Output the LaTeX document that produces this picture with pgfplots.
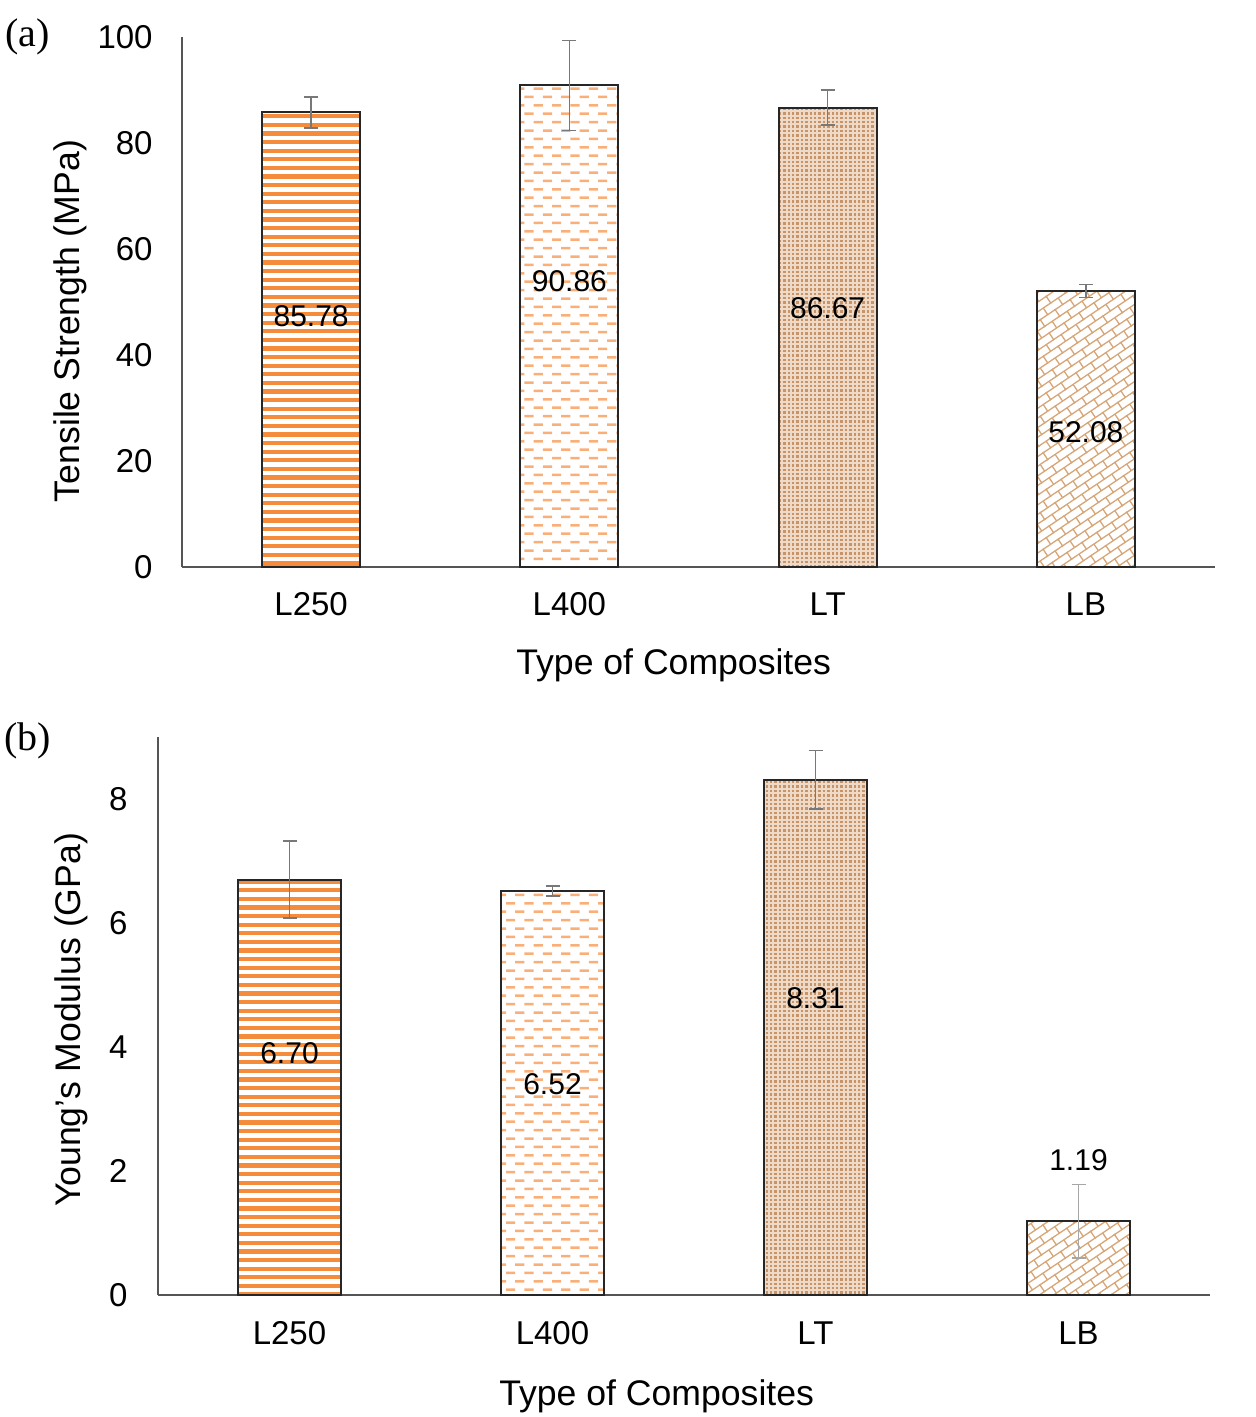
\documentclass[border=0pt]{standalone}
\usepackage{fontspec}
\setmainfont{Liberation Sans}
\newfontfamily\timesfont{Liberation Serif}
\usepackage{pgfplots}
\pgfplotsset{compat=1.18}
\usetikzlibrary{patterns,patterns.meta}

\definecolor{orA}{RGB}{245,140,60}
\definecolor{orB}{RGB}{250,175,120}
\definecolor{tanLight}{RGB}{238,218,198}
\definecolor{tanDark}{RGB}{198,148,104}
\definecolor{tanLine}{RGB}{214,166,120}
\definecolor{axgray}{RGB}{85,85,85}
\definecolor{errgray}{RGB}{120,120,120}

\pgfdeclarepatternformonly{hstripes}{\pgfpoint{-0.5pt}{-0.5pt}}{\pgfpoint{4.8pt}{4.8pt}}{\pgfpoint{4.3pt}{4.3pt}}{%
  \pgfpathrectangle{\pgfpoint{-0.5pt}{0pt}}{\pgfpoint{5.3pt}{2.1pt}}\pgfusepath{fill}}
\pgfdeclarepatternformonly{hdashes}{\pgfpoint{-0.1pt}{-0.1pt}}{\pgfpoint{9.3pt}{8.5pt}}{\pgfpoint{9.2pt}{8.4pt}}{%
  \pgfpathrectangle{\pgfpoint{0pt}{0pt}}{\pgfpoint{4.6pt}{1.25pt}}%
  \pgfpathrectangle{\pgfpoint{4.6pt}{4.2pt}}{\pgfpoint{4.6pt}{1.25pt}}%
  \pgfusepath{fill}}
\pgfdeclarepatternformonly{tdots}{\pgfpoint{-0.1pt}{-0.1pt}}{\pgfpoint{2.3pt}{2.3pt}}{\pgfpoint{2.2pt}{2.2pt}}{%
  \pgfpathrectangle{\pgfpoint{0pt}{0pt}}{\pgfpoint{1.2pt}{1.2pt}}\pgfusepath{fill}}
\pgfdeclarepattern{
  name=dbricks,
  type=uncolored,
  bottom left={\pgfpoint{-0.5pt}{-0.5pt}},
  top right={\pgfpoint{9.5pt}{8.5pt}},
  tile size={\pgfpoint{9pt}{8pt}},
  tile transformation={\pgftransformrotate{34}},
  code={
    \pgfsetlinewidth{0.65pt}
    \pgfpathmoveto{\pgfpoint{-0.5pt}{0pt}}\pgfpathlineto{\pgfpoint{9.5pt}{0pt}}
    \pgfpathmoveto{\pgfpoint{-0.5pt}{4pt}}\pgfpathlineto{\pgfpoint{9.5pt}{4pt}}
    \pgfpathmoveto{\pgfpoint{0pt}{0pt}}\pgfpathlineto{\pgfpoint{0pt}{4pt}}
    \pgfpathmoveto{\pgfpoint{4.5pt}{4pt}}\pgfpathlineto{\pgfpoint{4.5pt}{8pt}}
    \pgfusepath{stroke}
  }
}

\tikzset{vlab/.style={font=\fontsize{15}{18}\selectfont}}
\pgfplotsset{
  mystyle/.style={
    scale only axis,
    xmin=-0.5, xmax=3.5,
    xtick={0,1,2,3}, xticklabels={L250,L400,LT,LB},
    axis x line*=bottom, axis y line*=left,
    axis line style={-, draw=axgray, line width=1pt},
    major tick length=0pt,
    tick style={draw=none},
    /pgf/number format/assume math mode=true,
    tick label style={font=\fontsize{16.5}{18}\selectfont},
    yticklabel style={anchor=east, inner sep=0pt, xshift=-14.5pt},
    xticklabel style={anchor=center, inner sep=0pt, yshift=-18.5pt},
    label style={font=\fontsize{17.8}{20}\selectfont},
    xlabel={Type of Composites},
    clip=false,
  },
  mybar/.style={ybar, bar shift=0pt, draw=black!85, line width=1pt,
    error bars/y dir=both, error bars/y explicit,
    error bars/error bar style={draw=errgray, line width=0.8pt},
    error bars/error mark options={rotate=90, mark size=3.5pt, draw=errgray, line width=0.8pt}},
}

\begin{document}
\begin{tikzpicture}
\useasboundingbox (0,0) rectangle (627.5pt,-708.5pt);
\node[font=\timesfont\fontsize{20}{22}\selectfont] at (13.75pt,-18.5pt) {(a)};
\node[font=\timesfont\fontsize{20}{22}\selectfont] at (14pt,-370.5pt) {(b)};

\begin{axis}[mystyle, at={(91pt,-283.5pt)}, anchor=south west,
  width=516.5pt, height=265pt, ymin=0, ymax=100, ytick={0,20,...,100},
  bar width=49pt,
  ylabel={Tensile Strength (MPa)},
  ylabel style={at={(axis description cs:-0.108,0.464)}, anchor=center},
  xlabel style={at={(axis description cs:0.476,-0.186)}, anchor=center}]
\addplot[mybar, pattern=hstripes, pattern color=orA] coordinates {(0,85.78) +- (0,2.9)};
\addplot[mybar, pattern=hdashes, pattern color=orB] coordinates {(1,90.86) +- (0,8.5)};
\addplot[mybar, fill=tanLight, postaction={pattern=tdots, pattern color=tanDark}] coordinates {(2,86.67) +- (0,3.3)};
\addplot[mybar, pattern=dbricks, pattern color=tanLine] coordinates {(3,52.08) +- (0,1.2)};
\node[vlab] at (axis cs:0,47.4) {85.78};
\node[vlab] at (axis cs:1,54.0) {90.86};
\node[vlab] at (axis cs:2,48.9) {86.67};
\node[vlab] at (axis cs:3,25.5) {52.08};
\end{axis}

\begin{axis}[mystyle, at={(79pt,-647.5pt)}, anchor=south west,
  width=526pt, height=279pt, ymin=0, ymax=9, ytick={0,2,4,6,8},
  bar width=51.5pt,
  yticklabel style={xshift=-0.5pt},
  xticklabel style={yshift=-0.5pt},
  ylabel={Young’s Modulus (GPa)},
  ylabel style={at={(axis description cs:-0.082,0.493)}, anchor=center},
  xlabel style={at={(axis description cs:0.474,-0.181)}, anchor=center}]
\addplot[mybar, pattern=hstripes, pattern color=orA] coordinates {(0,6.70) +- (0,0.62)};
\addplot[mybar, pattern=hdashes, pattern color=orB] coordinates {(1,6.52) +- (0,0.08)};
\addplot[mybar, fill=tanLight, postaction={pattern=tdots, pattern color=tanDark}] coordinates {(2,8.31) +- (0,0.47)};
\addplot[mybar, pattern=dbricks, pattern color=tanLine,
  error bars/error bar style={draw=black!35, line width=0.8pt},
  error bars/error mark options={rotate=90, mark size=3.5pt, draw=black!35, line width=0.8pt}] coordinates {(3,1.19) +- (0,0.59)};
\node[vlab] at (axis cs:0,3.90) {6.70};
\node[vlab] at (axis cs:1,3.40) {6.52};
\node[vlab] at (axis cs:2,4.79) {8.31};
\node[vlab] at (axis cs:3,2.18) {1.19};
\end{axis}
\end{tikzpicture}
\end{document}
